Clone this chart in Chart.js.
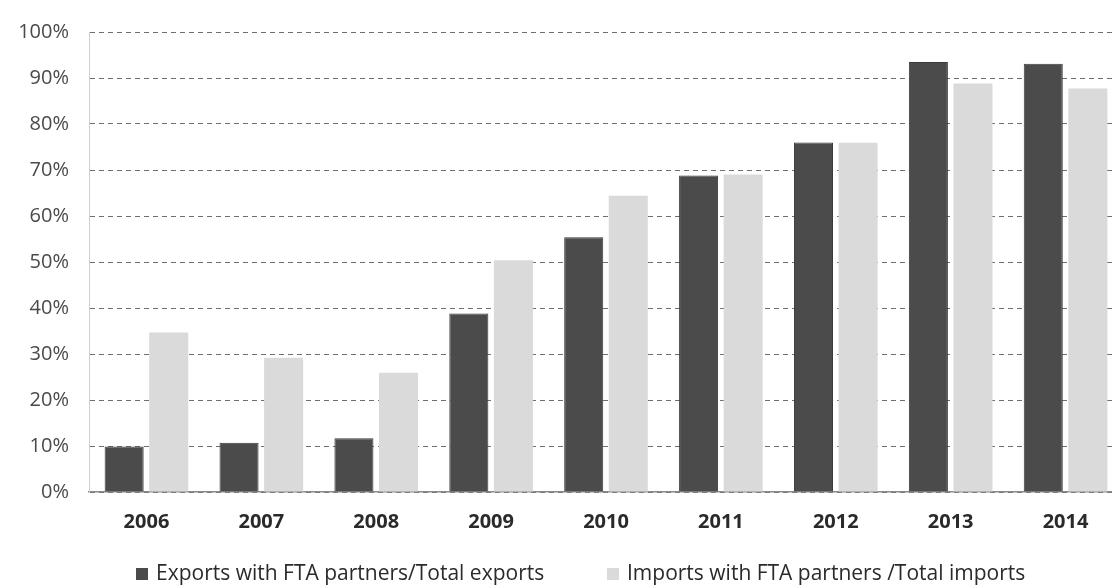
<!DOCTYPE html>
<html>
<head>
<meta charset="utf-8">
<script src="https://cdn.jsdelivr.net/npm/chart.js@4.4.1/dist/chart.umd.min.js"></script>
<style>
  html,body{margin:0;padding:0;background:#fff;overflow:hidden;}
  #wrap{position:relative;width:1112px;height:587px;overflow:hidden;}
  #legend{position:absolute;left:0;top:558px;width:1112px;height:28px;font-family:"Open Sans","Liberation Sans",sans-serif;font-size:21px;color:#2a2a2a;}
  #legend span{position:absolute;top:0;white-space:nowrap;line-height:28px;}
  #legend i{display:inline-block;width:12px;height:12px;margin-right:8px;vertical-align:0px;}
</style>
</head>
<body>
<div id="wrap">
  <canvas id="chart" width="1123" height="587"></canvas>
  <div id="legend"></div>
</div>
<script>
const years = ['2006','2007','2008','2009','2010','2011','2012','2013','2014'];
const exportsShare = [9.9, 10.7, 11.7, 38.8, 55.4, 68.8, 76.0, 93.5, 93.1];
const importsShare = [34.7, 29.2, 25.9, 50.4, 64.4, 69.0, 75.9, 88.8, 87.7];
const exportsLabel = 'Exports with FTA partners/Total exports';
const importsLabel = 'Imports with FTA partners /Total imports';
const exportColor = '#4b4b4b', importColor = '#dadada';

const FONT = '"Open Sans", "Liberation Sans", sans-serif';

const chart = new Chart(document.getElementById('chart'), {
  type: 'bar',
  data: {
    labels: years,
    datasets: [
      {label: exportsLabel, data: exportsShare, backgroundColor: exportColor, borderColor: '#3a3a3a', borderWidth: 1,
       categoryPercentage: 0.776, barPercentage: 0.876},
      {label: importsLabel, data: importsShare, backgroundColor: importColor, borderWidth: 0,
       categoryPercentage: 0.776, barPercentage: 0.876}
    ]
  },
  options: {
    responsive: false,
    animation: false,
    devicePixelRatio: 1,
    layout: {padding: {top: 20, bottom: 0, left: 0, right: 0}},
    scales: {
      x: {
        afterFit: s => { s.height = 95; },
        grid: {display: false, drawTicks: false},
        border: {color: '#8a8a8a', width: 1.5},
        ticks: {font: {family: FONT, size: 20, weight: 'bold'}, color: '#2a2a2a', padding: 18, maxRotation: 0, autoSkip: false}
      },
      y: {
        min: 0, max: 100,
        afterFit: s => { s.width = 89; },
        ticks: {stepSize: 10, autoSkip: false, callback: v => v + '%', font: {family: FONT, size: 20}, color: '#4a4a4a', padding: 20},
        grid: {color: '#6f6f6f', lineWidth: 1, drawTicks: false},
        border: {color: '#cfcfcf', dash: [5, 4], width: 1}
      }
    },
    plugins: {
      legend: {display: false},
      tooltip: {enabled: false}
    }
  }
});

// legend built from the dataset labels/colours
const lg = document.getElementById('legend');
const legendLeft = [136, 607];
chart.data.datasets.forEach((ds, i) => {
  const s = document.createElement('span');
  s.style.left = legendLeft[i] + 'px';
  s.innerHTML = `<i style="background:${ds.backgroundColor}"></i>`;
  s.appendChild(document.createTextNode(ds.label));
  lg.appendChild(s);
});
</script>
</body>
</html>
